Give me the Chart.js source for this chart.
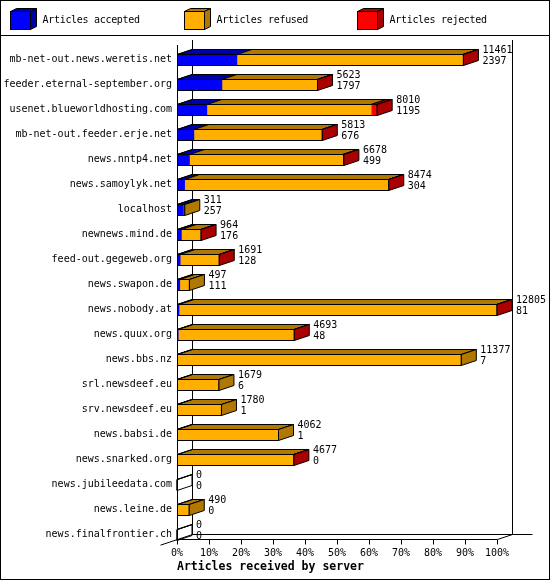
<!DOCTYPE html>
<html>
<head>
<meta charset="utf-8">
<script src="https://cdn.jsdelivr.net/npm/chart.js@4.4.1/dist/chart.umd.min.js"></script>
<style>
  html, body { margin: 0; padding: 0; background: #fff; }
  canvas { display: block; }
</style>
</head>
<body>
<canvas id="feeds" width="550" height="580"></canvas>
<script>
const servers = [
  'mb-net-out.news.weretis.net', 'feeder.eternal-september.org',
  'usenet.blueworldhosting.com', 'mb-net-out.feeder.erje.net',
  'news.nntp4.net', 'news.samoylyk.net', 'localhost', 'newnews.mind.de',
  'feed-out.gegeweb.org', 'news.swapon.de', 'news.nobody.at', 'news.quux.org',
  'news.bbs.nz', 'srl.newsdeef.eu', 'srv.newsdeef.eu', 'news.babsi.de',
  'news.snarked.org', 'news.jubileedata.com', 'news.leine.de',
  'news.finalfrontier.ch'
];
const accepted = [2397, 1797, 1195, 676, 499, 304, 257, 176, 128, 111, 81, 48, 7, 6, 1, 1, 0, 0, 0, 0];
const refused = [9034, 3811, 6575, 5122, 6129, 8160, 54, 783, 1558, 386, 12714, 4640, 11370, 1673, 1779, 4061, 4672, 0, 490, 0];
const rejected = [30, 15, 240, 15, 50, 10, 0, 5, 5, 0, 10, 5, 0, 0, 0, 0, 5, 0, 0, 0];
const seriesNames = ['Articles accepted', 'Articles refused', 'Articles rejected'];
const xMax = 12805;
const axisTitle = 'Articles received by server';

const frontColors = ['#0000ff', '#ffaf00', '#ff0000'];
const darkColors = ['#0000aa', '#b07800', '#aa0000'];
const DX = 15, DY = 5;

Chart.defaults.font.family = "'DejaVu Sans Mono', monospace";
Chart.defaults.color = '#000';

function poly(ctx, pts, fill) {
  ctx.beginPath();
  ctx.moveTo(pts[0][0], pts[0][1]);
  for (let i = 1; i < pts.length; i++) ctx.lineTo(pts[i][0], pts[i][1]);
  ctx.closePath();
  if (fill) { ctx.fillStyle = fill; ctx.fill(); }
  ctx.stroke();
}

function line(ctx, x1, y1, x2, y2) {
  ctx.beginPath();
  ctx.moveTo(x1, y1);
  ctx.lineTo(x2, y2);
  ctx.stroke();
}

const box3d = {
  id: 'box3d',
  beforeDatasetsDraw(chart) {
    const { ctx, chartArea: a } = chart;
    const L = a.left + 0.5, R = a.right + 0.5;
    const fF = a.bottom - 8 + 0.5, fB = fF - DY;
    const tF = a.top - 2, tB = tF - DY;
    ctx.save();
    ctx.strokeStyle = '#000';
    ctx.lineWidth = 1;
    line(ctx, L, tF, L, fF);
    line(ctx, L + DX, tB, L + DX, fB);
    line(ctx, R + DX, tB, R + DX, fB);
    line(ctx, L, fF, R, fF);
    line(ctx, L + DX, fB, R + DX + 20, fB);
    line(ctx, L - 17, fF + 17 * DY / DX, L + DX, fB);
    line(ctx, R, fF, R + DX, fB);
    chart.scales.x.ticks.forEach((t) => {
      const px = Math.round(chart.scales.x.getPixelForValue(t.value)) + 0.5;
      line(ctx, px, fF, px, fF + 5);
    });
    ctx.restore();
  },
  afterDatasetsDraw(chart) {
    const { ctx } = chart;
    const xs = chart.scales.x;
    const metas = [0, 1, 2].map((d) => chart.getDatasetMeta(d));
    const series = [accepted, refused, rejected];
    ctx.save();
    ctx.strokeStyle = '#000';
    ctx.lineWidth = 1;
    servers.forEach((name, i) => {
      const bar = metas[0].data[i];
      const top = bar.y - bar.height / 2 + 0.5;
      const bottom = bar.y + bar.height / 2 + 0.5;
      const x0 = xs.getPixelForValue(0) + 0.5;
      let last = -1;
      series.forEach((s, d) => {
        if (s[i] > 0) {
          last = d;
          const el = metas[d].data[i];
          poly(ctx, [[el.base, top], [el.x, top], [el.x + DX, top - DY], [el.base + DX, top - DY]], darkColors[d]);
        }
      });
      const total = accepted[i] + refused[i] + rejected[i];
      const x1 = xs.getPixelForValue(total);
      ctx.beginPath();
      ctx.rect(x0, top, x1 - x0, bottom - top);
      ctx.stroke();
      poly(ctx, [[x0, top], [x1, top], [x1 + DX, top - DY], [x0 + DX, top - DY]]);
      poly(ctx, [[x1, top], [x1 + DX, top - DY], [x1 + DX, bottom - DY], [x1, bottom]],
        last >= 0 ? darkColors[last] : null);
      ctx.fillStyle = '#000';
      ctx.font = "10px 'DejaVu Sans Mono'";
      ctx.textAlign = 'left';
      ctx.textBaseline = 'middle';
      ctx.fillText(String(total), x1 + DX + 4, bar.y - 9.5);
      ctx.fillText(String(accepted[i]), x1 + DX + 4, bar.y + 1.5);
    });
    ctx.restore();
  },
  afterDraw(chart) {
    const { ctx } = chart;
    ctx.save();
    ctx.strokeStyle = '#000';
    ctx.lineWidth = 1;
    ctx.strokeRect(0.5, 0.5, 549, 579);
    line(ctx, 0, 35.5, 550, 35.5);
    seriesNames.forEach((name, k) => {
      const bx = Math.round(10 + k * 173.5) + 0.5;
      poly(ctx, [[bx, 11.5], [bx + 20, 11.5], [bx + 26, 8.5], [bx + 6, 8.5]], darkColors[k]);
      poly(ctx, [[bx + 20, 11.5], [bx + 26, 8.5], [bx + 26, 26.5], [bx + 20, 29.5]], darkColors[k]);
      ctx.fillStyle = frontColors[k];
      ctx.fillRect(bx, 11.5, 20, 18);
      ctx.strokeRect(bx, 11.5, 20, 18);
      ctx.fillStyle = '#000';
      ctx.font = "10px 'DejaVu Sans Mono'";
      ctx.letterSpacing = '-0.3px';
      ctx.textAlign = 'left';
      ctx.textBaseline = 'middle';
      ctx.fillText(name, bx + 32, 20.5);
      ctx.letterSpacing = '0px';
    });
    ctx.restore();
  }
};

new Chart(document.getElementById('feeds').getContext('2d'), {
  type: 'bar',
  data: {
    labels: servers,
    datasets: [
      { label: seriesNames[0], data: accepted, backgroundColor: frontColors[0] },
      { label: seriesNames[1], data: refused, backgroundColor: frontColors[1] },
      { label: seriesNames[2], data: rejected, backgroundColor: frontColors[2] }
    ]
  },
  options: {
    indexAxis: 'y',
    responsive: false,
    animation: false,
    devicePixelRatio: 1,
    barThickness: 11,
    borderWidth: 0,
    layout: { padding: { left: 0, right: 53, top: 47, bottom: 6 } },
    plugins: { legend: { display: false }, tooltip: { enabled: false } },
    scales: {
      x: {
        stacked: true,
        min: 0,
        max: xMax,
        grid: { display: false, drawTicks: false },
        border: { display: false },
        ticks: {
          stepSize: xMax / 10,
          padding: 0,
          maxRotation: 0,
          autoSkip: false,
          font: { size: 10 },
          callback: (v) => Math.round(v / xMax * 100) + '%'
        },
        title: {
          display: true,
          text: axisTitle,
          align: 'start',
          padding: { top: 0, bottom: 0 },
          font: { size: 11.5, weight: 'bold' }
        },
        afterFit: (s) => { s.height = 27; }
      },
      y: {
        stacked: true,
        grid: { display: false, drawTicks: false },
        border: { display: false },
        ticks: { padding: 5, autoSkip: false, font: { size: 10 } },
        afterFit: (s) => { s.width = 177; }
      }
    }
  },
  plugins: [box3d]
});
</script>
</body>
</html>
